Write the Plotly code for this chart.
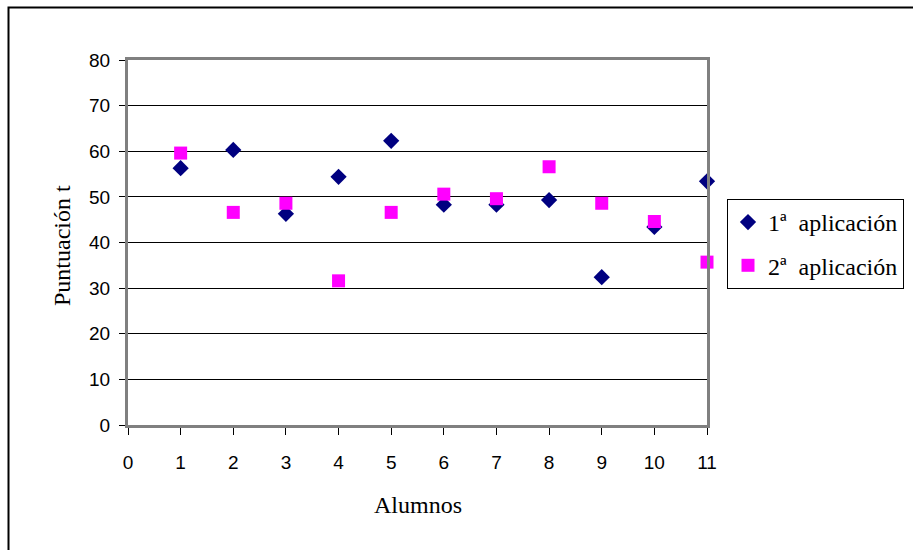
import plotly.graph_objects as go

alumnos = [1, 2, 3, 4, 5, 6, 7, 8, 9, 10, 11]
aplic1 = [56.3, 60.3, 46.3, 54.4, 62.3, 48.3, 48.3, 49.3, 32.4, 43.4, 53.4]
aplic2 = [59.6, 46.6, 48.6, 31.6, 46.6, 50.6, 49.6, 56.6, 48.6, 44.6, 35.7]
name1 = "1ª\u00a0 aplicación"
name2 = "2ª\u00a0 aplicación"
x_ticks = list(range(0, 12))
y_ticks = list(range(0, 81, 10))

W, H = 913, 550
L, R, T, B = 128, 206, 60, 125
pw, ph = W - L - R, H - T - B

def px_x(p):
    return (p - L) / pw

def px_y(p):
    return (H - B - p) / ph

serif = "Liberation Serif"
sans = "Liberation Sans"

fig = go.Figure()
fig.add_trace(go.Scatter(
    x=alumnos, y=aplic1, mode="markers", name=name1, legendgroup="a",
    marker=dict(symbol="diamond", size=12.5, color="#000080", line=dict(width=0)),
    cliponaxis=False))
fig.add_trace(go.Scatter(
    x=alumnos, y=aplic2, mode="markers", name=name2, legendgroup="b",
    marker=dict(symbol="square", size=13, color="#FF00FF", line=dict(width=0)),
    cliponaxis=False))

fig.update_layout(
    width=W, height=H,
    margin=dict(l=L, r=R, t=T, b=B, autoexpand=False),
    paper_bgcolor="white", plot_bgcolor="white",
    showlegend=True,
    legend=dict(
        x=px_x(727), y=px_y(199), xanchor="left", yanchor="top",
        bordercolor="black", borderwidth=1, bgcolor="white",
        font=dict(family=serif, size=24, color="black"),
        tracegroupgap=9, itemsizing="trace",
    ),
    xaxis=dict(
        range=[0, 11], tickmode="array", tickvals=x_ticks,
        ticktext=[str(v) for v in x_ticks],
        showgrid=False, zeroline=False,
        showline=True, linecolor="#808080", linewidth=3, mirror=True,
        ticks="outside", ticklen=7, tickcolor="black", tickwidth=1,
        ticklabelstandoff=11,
        tickfont=dict(family=sans, size=19, color="black"),
    ),
    yaxis=dict(
        range=[0, 80], tickmode="array", tickvals=y_ticks,
        ticktext=[str(v) for v in y_ticks],
        showgrid=True, gridcolor="black", gridwidth=1, zeroline=False,
        showline=True, linecolor="#808080", linewidth=3, mirror=True,
        ticks="outside", ticklen=6, tickcolor="black", tickwidth=1,
        ticklabelstandoff=5,
        tickfont=dict(family=sans, size=19, color="black"),
    ),
    shapes=[dict(
        type="rect", xref="paper", yref="paper",
        x0=px_x(8.5), x1=2, y0=-1, y1=px_y(7.5),
        line=dict(color="black", width=2), fillcolor="rgba(0,0,0,0)", layer="below")],
    annotations=[
        dict(text="Alumnos", xref="paper", yref="paper", x=px_x(417.5), y=px_y(505),
             xanchor="center", yanchor="middle", showarrow=False,
             font=dict(family=serif, size=24, color="black")),
        dict(text="Puntuación t", xref="paper", yref="paper", x=px_x(62), y=px_y(246),
             xanchor="center", yanchor="middle", showarrow=False, textangle=-90,
             font=dict(family=serif, size=24, color="black")),
    ],
)

fig.write_html("out.html")
